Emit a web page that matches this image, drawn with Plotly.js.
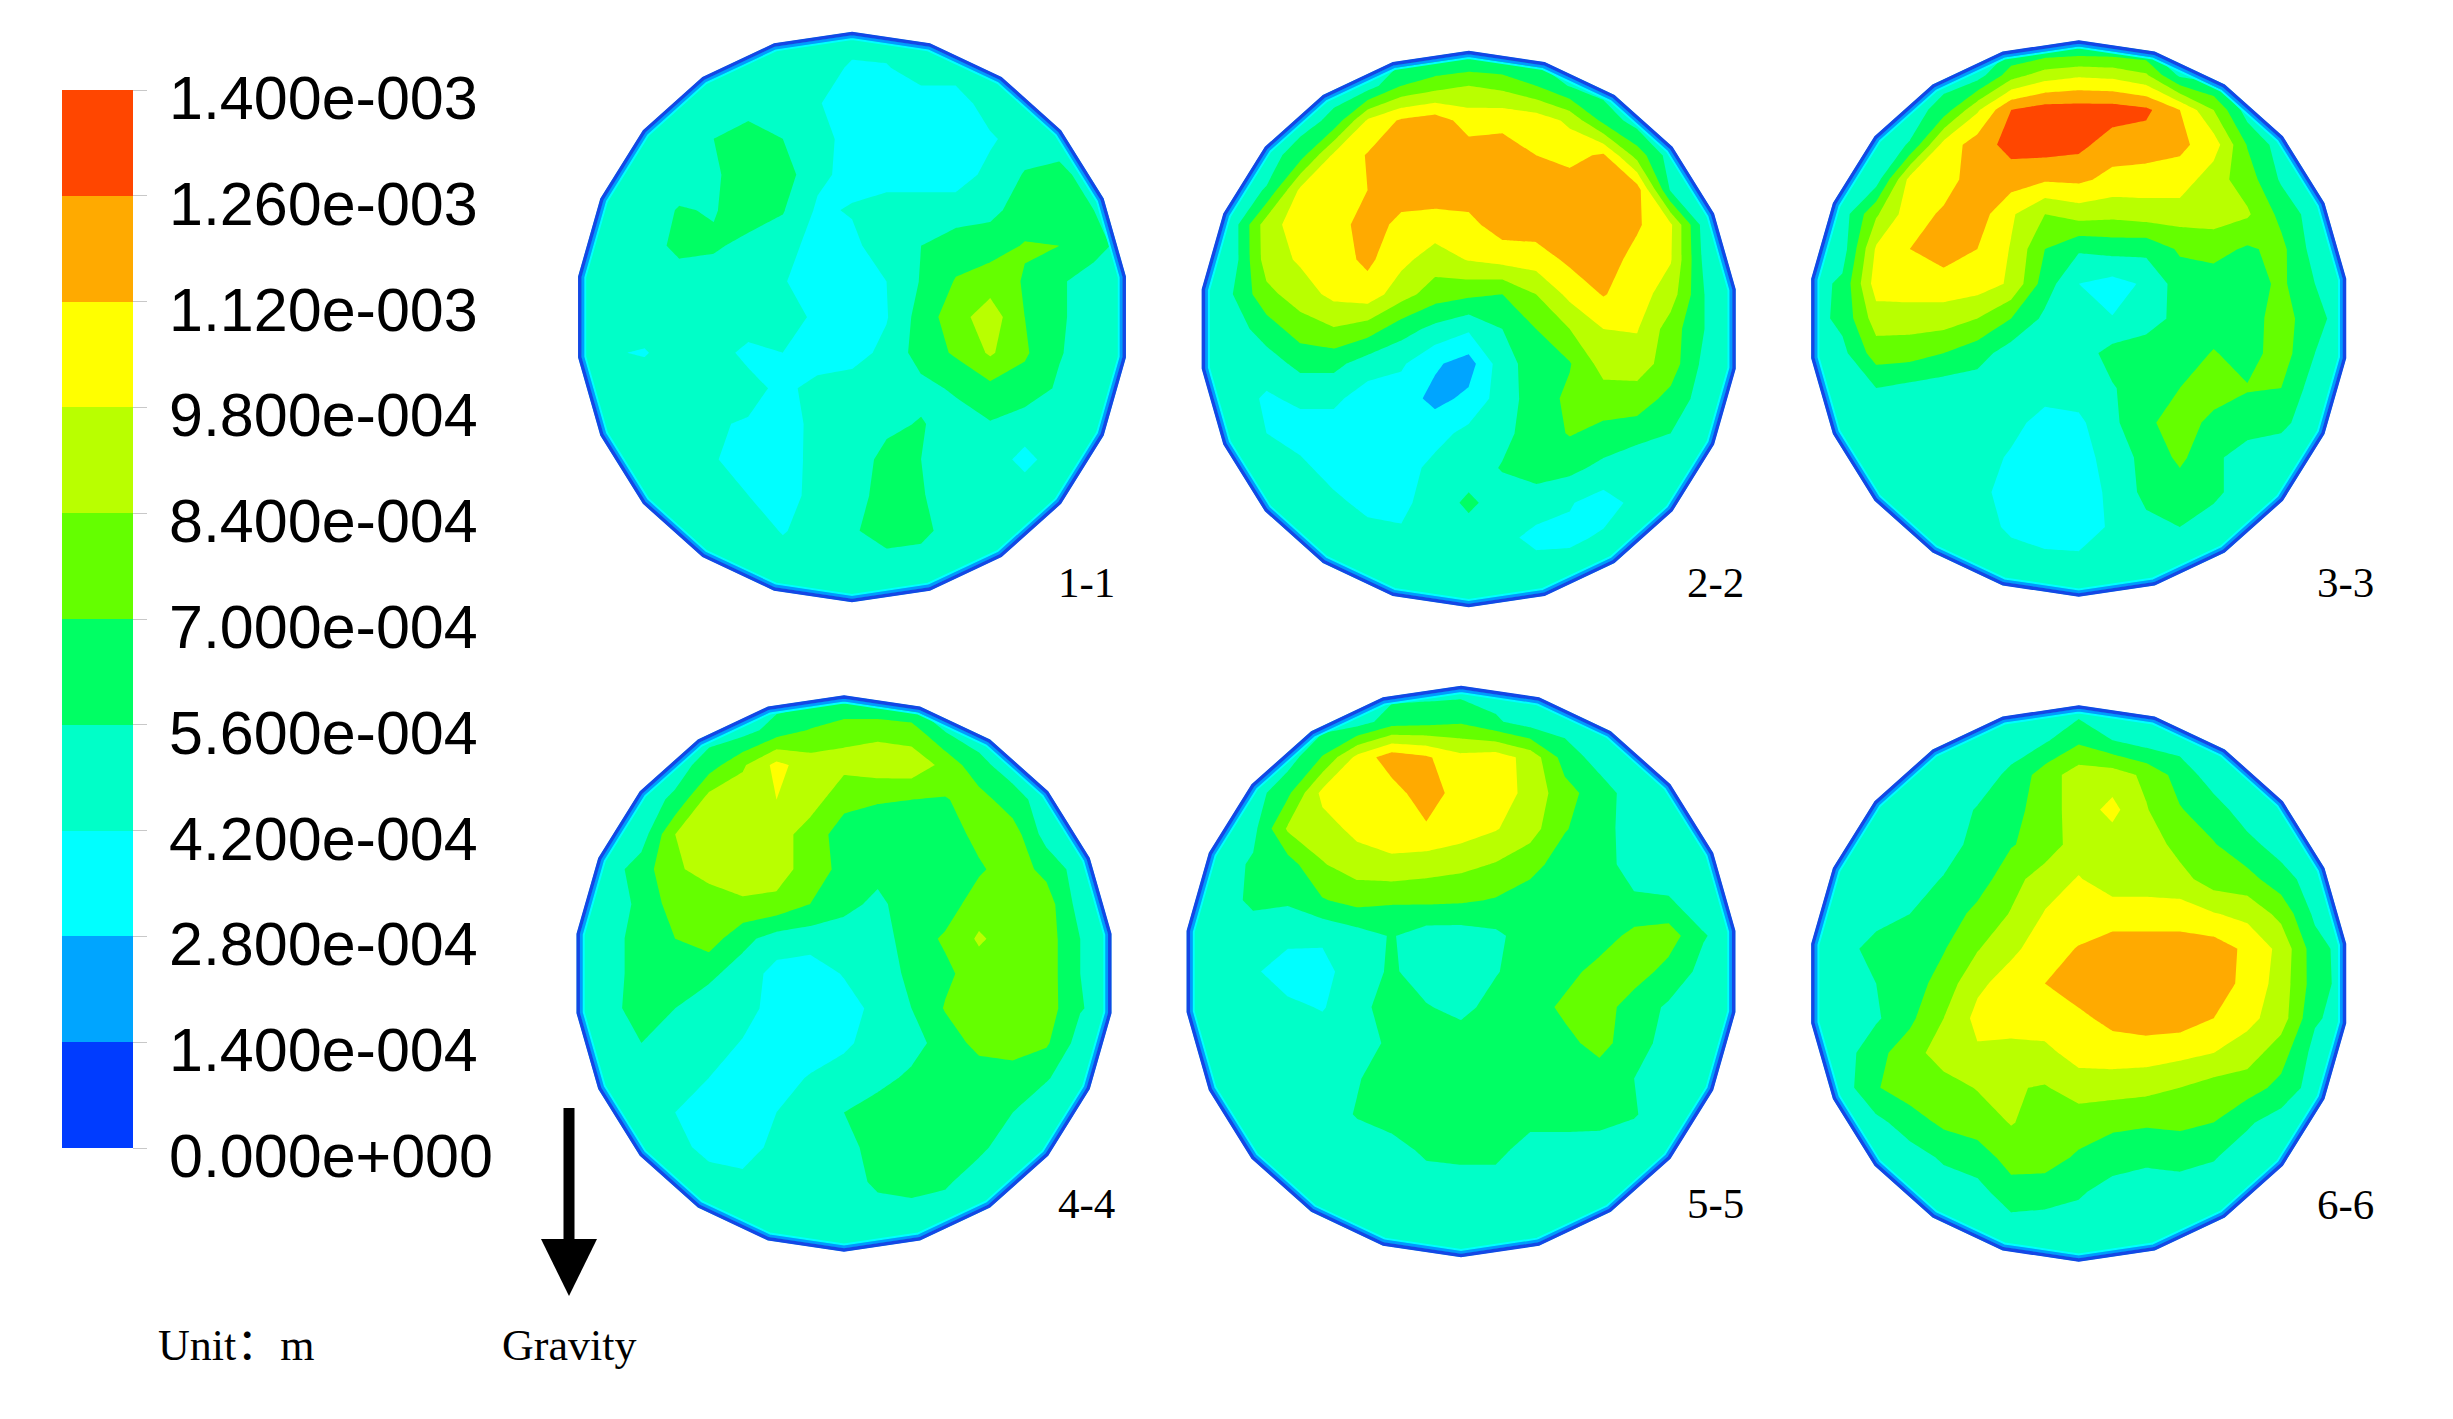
<!DOCTYPE html>
<html>
<head>
<meta charset="utf-8">
<script src="https://cdn.plot.ly/plotly-3.0.1.min.js"></script>
<style>body{margin:0;background:#fff}</style>
</head>
<body>
<div id="myDiv" style="width:2453px;height:1419px"></div>
<script>
// Values in units of 1e-4 m on a 17x17 grid over each disc
const disc1 = [
[4.9,4.9,4.9,4.9,4.9,4.9,4.9,4.9,4.9,4.9,4.9,4.9,4.9,4.9,4.9,4.9,4.9],
[4.9,4.9,4.9,4.9,4.9,4.9,4.9,4.9,4.0,4.1,4.9,4.9,4.9,4.9,4.9,4.9,4.9],
[4.9,4.9,4.9,4.9,4.9,4.9,4.9,4.3,3.5,3.5,3.5,3.5,4.9,4.9,4.9,4.9,4.9],
[4.9,4.9,4.9,4.9,5.6,6.3,5.6,4.9,3.5,3.5,3.5,3.5,4.0,4.9,4.9,4.9,4.9],
[4.9,4.9,4.9,4.9,5.4,6.3,6.3,4.5,3.8,3.5,3.5,3.5,4.6,5.7,6.0,4.9,4.9],
[4.9,4.9,4.9,5.7,5.5,6.3,5.7,4.0,4.3,4.9,4.9,4.9,5.2,6.3,7.0,5.6,4.9],
[4.9,4.9,4.9,6.0,5.8,5.2,4.9,3.5,3.9,4.9,5.6,6.3,6.4,7.1,7.0,6.2,4.9],
[4.9,4.9,4.9,4.9,4.9,4.9,4.3,3.5,3.5,4.2,5.7,7.1,7.7,6.9,5.8,4.9,4.9],
[4.9,4.9,4.9,4.9,4.9,4.9,4.9,3.9,3.5,4.1,6.2,7.8,9.2,7.0,5.8,4.9,4.9],
[4.9,4.3,4.1,4.9,4.7,3.9,4.2,3.5,3.6,4.6,6.2,7.2,8.6,7.2,5.7,4.9,4.9],
[4.9,4.9,4.9,4.9,4.9,4.6,3.9,4.6,4.9,4.9,5.2,5.8,6.6,6.4,5.4,4.9,4.9],
[4.9,4.9,4.9,4.9,4.3,4.1,3.6,4.6,4.9,5.3,5.7,5.0,5.5,4.9,4.9,4.9,4.9],
[4.9,4.9,4.9,4.9,4.3,3.6,3.5,4.7,4.9,6.0,5.6,4.9,4.9,3.8,4.9,4.9,4.9],
[4.9,4.9,4.9,4.9,4.9,4.2,3.6,4.7,5.0,6.2,5.7,4.9,4.9,4.9,4.9,4.9,4.9],
[4.9,4.9,4.9,4.9,4.9,4.9,4.1,4.8,5.4,6.3,6.0,4.9,4.9,4.9,4.9,4.9,4.9],
[4.9,4.9,4.9,4.9,4.9,4.9,4.9,4.9,4.9,4.9,4.9,4.9,4.9,4.9,4.9,4.9,4.9],
[4.9,4.9,4.9,4.9,4.9,4.9,4.9,4.9,4.9,4.9,4.9,4.9,4.9,4.9,4.9,4.9,4.9]
];
const disc2 = [
[4.9,4.9,4.9,4.9,4.9,4.9,4.9,4.9,4.9,4.9,4.9,4.9,4.9,4.9,4.9,4.9,4.9],
[4.9,4.9,4.9,4.9,4.9,4.9,7.0,7.8,8.4,8.0,7.0,5.5,4.9,4.9,4.9,4.9,4.9],
[4.9,4.9,4.9,4.9,6.0,10.0,11.4,11.9,10.6,10.8,10.6,9.5,6.6,4.9,4.9,4.9,4.9],
[4.9,4.9,4.9,6.4,10.1,11.3,11.9,11.9,11.9,11.9,11.2,10.8,11.4,7.8,4.9,4.9,4.9],
[4.9,4.9,5.7,10.1,10.5,11.2,11.9,11.9,11.9,11.9,11.9,11.9,11.9,11.9,5.4,4.9,4.9],
[4.9,4.9,9.2,10.5,10.5,11.9,10.8,10.6,10.8,11.9,11.9,11.9,11.9,11.4,10.0,4.9,4.9],
[4.9,4.9,9.1,10.0,10.6,11.5,10.2,9.1,9.9,10.3,10.5,11.5,11.9,10.7,9.9,5.2,4.9],
[4.9,5.6,8.0,9.1,10.2,10.6,9.0,7.7,7.3,7.0,8.4,10.2,11.3,10.4,9.1,5.6,4.9],
[4.9,4.9,6.3,7.7,8.3,7.7,6.2,5.2,4.4,5.6,7.0,8.4,9.8,9.9,7.7,5.6,4.9],
[4.9,4.9,4.9,6.0,6.0,4.9,4.4,3.0,2.2,5.0,6.3,6.9,9.0,9.1,7.7,5.2,4.9],
[4.9,4.9,4.0,4.5,4.5,3.5,3.5,2.4,3.1,4.9,6.3,7.3,7.7,7.7,6.6,4.9,4.9],
[4.9,4.9,4.2,3.5,3.5,3.5,3.5,3.7,4.6,5.2,6.3,7.1,6.6,6.3,5.6,4.9,4.9],
[4.9,4.9,4.9,4.6,3.5,3.5,3.6,4.6,4.9,5.7,6.2,6.0,5.2,4.2,4.9,4.9,4.9],
[4.9,4.9,4.9,4.9,4.6,3.7,3.9,4.8,5.9,4.9,4.9,4.3,3.6,4.6,4.9,4.9,4.9],
[4.9,4.9,4.9,4.9,4.9,4.9,4.4,4.9,4.9,4.6,3.8,3.9,4.4,4.9,4.9,4.9,4.9],
[4.9,4.9,4.9,4.9,4.9,4.9,4.9,4.9,4.9,4.9,4.9,4.9,4.9,4.9,4.9,4.9,4.9],
[4.9,4.9,4.9,4.9,4.9,4.9,4.9,4.9,4.9,4.9,4.9,4.9,4.9,4.9,4.9,4.9,4.9]
];
const disc3 = [
[4.9,4.9,4.9,4.9,4.9,4.9,4.9,4.9,4.9,4.9,4.9,4.9,4.9,4.9,4.9,4.9,4.9],
[4.9,4.9,4.9,4.9,4.9,4.9,7.8,9.1,9.6,9.4,8.6,5.3,4.9,4.9,4.9,4.9,4.9],
[4.9,4.9,4.9,4.9,6.2,9.6,12.6,13.3,13.3,13.3,12.9,11.2,8.4,4.9,4.9,4.9,4.9],
[4.9,4.9,4.9,5.7,10.3,11.9,13.1,13.3,13.0,11.9,11.9,11.5,10.5,6.9,4.9,4.9,4.9],
[4.9,4.9,4.9,10.3,10.6,11.9,11.9,11.4,11.5,10.8,10.6,10.6,9.0,7.7,5.4,4.9,4.9],
[4.9,4.9,8.2,10.6,11.4,11.9,10.0,8.4,9.0,8.8,9.1,9.1,9.1,8.6,6.6,4.9,4.9],
[4.9,4.9,10.0,11.2,11.9,11.2,9.7,7.0,5.8,6.1,6.0,7.2,7.5,6.8,7.4,5.0,4.9],
[4.9,5.9,10.5,10.6,10.6,10.5,9.6,6.3,4.2,3.7,4.4,6.3,6.3,6.3,7.3,5.6,4.9],
[4.9,6.0,9.1,9.1,9.1,8.4,7.0,5.3,4.8,4.25,5.0,6.0,6.3,6.3,7.7,6.0,4.9],
[4.9,5.2,7.7,7.6,7.0,6.2,4.9,4.9,4.9,6.1,6.3,6.3,7.1,6.4,7.7,5.6,4.9],
[4.9,4.9,5.6,5.2,4.9,4.9,4.9,4.9,4.9,5.5,6.3,7.0,7.7,7.1,7.0,4.9,4.9],
[4.9,4.9,4.9,4.9,4.9,4.9,4.7,3.6,3.9,5.3,6.7,7.7,6.6,6.3,5.9,4.9,4.9],
[4.9,4.9,4.9,4.9,4.9,4.9,4.0,3.5,3.5,4.9,6.0,7.3,5.9,4.9,4.9,4.9,4.9],
[4.9,4.9,4.9,4.9,4.9,4.7,3.5,3.5,3.5,4.5,6.0,6.3,5.9,4.9,4.9,4.9,4.9],
[4.9,4.9,4.9,4.9,4.9,4.9,3.9,3.5,3.5,4.4,5.2,5.6,5.0,4.9,4.9,4.9,4.9],
[4.9,4.9,4.9,4.9,4.9,4.9,4.9,4.6,4.5,4.9,4.9,4.9,4.9,4.9,4.9,4.9,4.9],
[4.9,4.9,4.9,4.9,4.9,4.9,4.9,4.9,4.9,4.9,4.9,4.9,4.9,4.9,4.9,4.9,4.9]
];
const disc4 = [
[4.9,4.9,4.9,4.9,4.9,4.9,4.9,4.9,4.9,4.9,4.9,4.9,4.9,4.9,4.9,4.9,4.9],
[4.9,4.9,4.9,4.9,4.9,5.0,6.2,7.1,8.0,8.0,7.6,5.5,4.9,4.9,4.9,4.9,4.9],
[4.9,4.9,4.9,4.9,6.3,8.2,10.2,9.1,8.8,9.2,9.3,8.0,6.0,4.9,4.9,4.9,4.9],
[4.9,4.9,4.9,5.9,9.0,9.2,9.8,9.1,7.4,7.1,7.0,6.9,7.6,6.2,4.9,4.9,4.9],
[4.9,4.9,4.9,8.4,9.1,9.1,9.1,7.7,6.4,6.3,6.3,6.3,7.4,7.7,5.0,4.9,4.9],
[4.9,4.9,6.3,8.2,8.9,9.1,9.1,7.7,6.6,6.0,6.3,6.3,6.8,7.7,6.6,4.9,4.9],
[4.9,4.9,5.9,7.7,7.7,8.2,8.0,7.0,6.0,5.3,6.3,6.3,7.7,7.7,7.7,5.0,4.9],
[4.9,4.9,6.3,7.0,7.7,6.0,5.0,4.8,4.9,4.9,6.3,7.2,8.6,7.7,7.7,5.6,4.9],
[4.9,4.9,6.3,6.3,5.9,5.0,3.7,3.5,4.3,4.9,5.9,6.7,7.7,7.7,7.7,5.6,4.9],
[4.9,5.3,6.0,5.6,4.9,4.8,3.6,3.5,3.6,4.6,5.6,7.1,7.7,7.7,7.7,5.7,4.9],
[4.9,4.9,5.6,4.9,4.9,4.1,3.5,3.5,3.9,4.9,5.0,6.3,7.4,7.7,7.2,5.0,4.9],
[4.9,4.9,4.9,4.9,4.2,3.5,3.7,4.3,4.9,5.1,5.9,6.3,6.3,6.3,5.7,4.9,4.9],
[4.9,4.9,4.9,4.2,3.5,3.5,4.2,4.9,5.6,6.3,6.3,6.3,6.3,5.6,4.9,4.9,4.9],
[4.9,4.9,4.9,4.7,3.7,3.7,4.5,4.9,5.0,6.3,6.3,6.3,5.9,4.9,4.9,4.9,4.9],
[4.9,4.9,4.9,4.9,4.9,4.5,4.7,4.9,4.9,5.9,6.2,5.8,4.9,4.9,4.9,4.9,4.9],
[4.9,4.9,4.9,4.9,4.9,4.9,4.9,4.9,4.9,4.9,4.9,4.9,4.9,4.9,4.9,4.9,4.9],
[4.9,4.9,4.9,4.9,4.9,4.9,4.9,4.9,4.9,4.9,4.9,4.9,4.9,4.9,4.9,4.9,4.9]
];
const disc5 = [
[4.9,4.9,4.9,4.9,4.9,4.9,4.9,4.9,4.9,4.9,4.9,4.9,4.9,4.9,4.9,4.9,4.9],
[4.9,4.9,4.9,4.9,4.9,4.9,6.3,6.5,6.8,5.8,4.9,4.9,4.9,4.9,4.9,4.9,4.9],
[4.9,4.9,4.9,4.9,7.1,10.2,12.0,11.4,10.2,10.5,9.3,6.4,5.0,4.9,4.9,4.9,4.9],
[4.9,4.9,4.9,6.7,10.2,11.0,10.6,12.0,10.5,10.5,9.4,7.5,6.3,4.9,4.9,4.9,4.9],
[4.9,4.9,5.2,8.6,9.2,10.2,10.5,11.0,10.5,9.9,9.0,7.1,6.2,4.9,4.9,4.9,4.9],
[4.9,4.9,5.8,6.4,8.3,9.1,9.5,9.1,8.8,8.3,7.5,6.3,6.2,5.0,4.9,4.9,4.9],
[4.9,4.9,5.9,5.8,6.9,7.5,7.2,7.3,7.2,6.9,6.3,6.3,6.3,5.8,5.7,4.9,4.9],
[4.9,4.9,4.9,4.6,4.4,5.0,5.7,4.9,4.9,5.3,6.3,6.3,6.3,7.4,7.7,5.7,4.9],
[4.9,4.9,4.4,3.5,3.8,4.9,5.8,4.9,4.9,5.5,6.3,6.5,7.5,7.7,6.5,5.2,4.9],
[4.9,4.9,4.9,4.5,4.1,5.1,6.3,5.7,5.2,6.1,6.3,7.3,7.7,6.3,5.4,4.9,4.9],
[4.9,4.9,4.9,4.9,4.9,4.9,5.9,6.3,6.3,6.3,6.3,6.6,7.5,6.2,5.1,4.9,4.9],
[4.9,4.9,4.9,4.9,4.9,5.5,6.3,6.3,6.3,6.3,6.3,6.7,6.3,5.6,4.9,4.9,4.9],
[4.9,4.9,4.9,4.9,4.9,5.7,6.3,6.3,6.3,6.3,6.3,6.3,6.2,5.7,4.9,4.9,4.9],
[4.9,4.9,4.9,4.9,4.9,4.9,5.0,5.9,6.1,6.1,4.9,4.9,4.9,4.9,4.9,4.9,4.9],
[4.9,4.9,4.9,4.9,4.9,4.9,4.9,4.9,4.9,4.9,4.9,4.9,4.9,4.9,4.9,4.9,4.9],
[4.9,4.9,4.9,4.9,4.9,4.9,4.9,4.9,4.9,4.9,4.9,4.9,4.9,4.9,4.9,4.9,4.9],
[4.9,4.9,4.9,4.9,4.9,4.9,4.9,4.9,4.9,4.9,4.9,4.9,4.9,4.9,4.9,4.9,4.9]
];
const disc6 = [
[4.9,4.9,4.9,4.9,4.9,4.9,4.9,4.9,4.9,4.9,4.9,4.9,4.9,4.9,4.9,4.9,4.9],
[4.9,4.9,4.9,4.9,4.9,4.9,4.9,5.4,6.7,5.6,4.9,4.9,4.9,4.9,4.9,4.9,4.9],
[4.9,4.9,4.9,4.9,4.9,4.9,5.9,7.7,9.1,9.1,8.1,6.4,4.9,4.9,4.9,4.9,4.9],
[4.9,4.9,4.9,4.9,4.9,5.7,6.5,7.7,9.1,10.2,8.5,7.1,6.2,4.9,4.9,4.9,4.9],
[4.9,4.9,4.9,4.9,4.9,6.1,6.9,7.6,9.1,9.1,9.2,7.9,7.1,6.0,5.0,4.9,4.9],
[4.9,4.9,4.9,4.9,5.7,6.3,7.9,9.1,9.9,9.1,9.1,8.9,7.7,7.5,6.2,4.9,4.9],
[4.9,4.9,4.9,5.6,6.2,7.4,8.5,9.9,10.3,10.5,10.5,10.5,9.9,9.4,8.0,5.3,4.9],
[4.9,4.9,6.3,6.3,6.9,8.3,9.5,10.5,11.3,11.9,11.9,11.9,11.9,10.9,9.4,6.2,4.9],
[4.9,4.9,5.6,6.3,7.6,9.5,10.4,11.2,11.9,11.9,11.9,11.9,11.9,10.8,9.2,6.3,4.9],
[4.9,4.9,5.4,6.7,8.4,10.2,10.5,10.6,10.9,11.6,11.9,11.9,11.2,10.2,9.1,5.8,4.9],
[4.9,4.9,6.6,7.7,9.2,9.6,9.3,9.4,10.4,10.5,10.5,10.2,9.8,9.1,7.6,5.1,4.9],
[4.9,4.9,6.9,7.7,7.7,8.5,8.5,8.3,9.0,9.0,8.8,8.4,7.8,7.6,6.6,4.9,4.9],
[4.9,4.9,5.2,6.3,7.3,7.5,8.5,7.7,7.7,7.3,7.2,7.3,7.0,5.8,4.9,4.9,4.9],
[4.9,4.9,4.9,5.0,5.8,6.5,7.4,7.6,6.8,6.3,5.9,6.1,5.7,4.9,4.9,4.9,4.9],
[4.9,4.9,4.9,4.9,4.9,5.0,6.6,6.3,5.8,5.0,4.9,4.9,4.9,4.9,4.9,4.9,4.9],
[4.9,4.9,4.9,4.9,4.9,4.9,4.9,4.9,4.9,4.9,4.9,4.9,4.9,4.9,4.9,4.9,4.9],
[4.9,4.9,4.9,4.9,4.9,4.9,4.9,4.9,4.9,4.9,4.9,4.9,4.9,4.9,4.9,4.9,4.9]
];
const discNames = ["1-1", "2-2", "3-3", "4-4", "5-5", "6-6"];
const levels = [0, 1.4, 2.8, 4.2, 5.6, 7, 8.4, 9.8, 11.2, 12.6, 14];
const levelLabels = ["0.000e+000", "1.400e-004", "2.800e-004", "4.200e-004", "5.600e-004", "7.000e-004", "8.400e-004", "9.800e-004", "1.120e-003", "1.260e-003", "1.400e-003"];
const bandColors = ["#003cff", "#00a5ff", "#00ffff", "#00ffc8", "#00ff64", "#64ff00", "#b9ff00", "#ffff00", "#ffaa00", "#ff4600"];

// Everything is placed in picture pixels: one axis pair covering the whole page
const W = 2453, H = 1419;
const allDiscs = [disc1, disc2, disc3, disc4, disc5, disc6];
const centers = [[852, 317], [1468.7, 329], [2078.7, 318.5], [844, 973.5], [1461, 971.5], [2078.7, 983.5]];
const radii = [[276.5, 285], [269.5, 278], [270, 278], [270, 278], [277, 285.5], [270, 278]];
const nameSpots = [[1086, 582], [1715, 582], [2345, 582], [1086, 1203], [1715, 1203], [2345, 1204]];
const SIDES = 22;

// Stepped colour scale, one flat step for each band
const colorscale = [];
bandColors.forEach((c, i) => {
  colorscale.push([i / 10, c]);
  colorscale.push([(i + 1) / 10, c]);
});

// Path of the 22-sided wall of a disc, inset by some pixels
function wallPath(i, inset) {
  let p = "";
  for (let k = 0; k < SIDES; k++) {
    const a = (2 * Math.PI * k) / SIDES;
    const px = centers[i][0] + (radii[i][0] - inset) * Math.sin(a);
    const py = centers[i][1] - (radii[i][1] - inset) * Math.cos(a);
    p += (k ? "L" : "M") + px.toFixed(1) + "," + py.toFixed(1);
  }
  return p + "Z";
}

const data = allDiscs.map((z, i) => {
  const n = z.length;
  const grid = z.map((row, k) => (2 * k) / (n - 1) - 1);
  return {
    type: "contour",
    z: z,
    x: grid.map((u) => centers[i][0] + radii[i][0] * u),
    y: grid.map((v) => centers[i][1] + radii[i][1] * v),
    autocontour: false,
    contours: { start: levels[0], end: levels[10], size: 1.4, coloring: "fill", showlines: false },
    line: { width: 0, smoothing: 0 },
    colorscale: colorscale,
    zmin: levels[0],
    zmax: levels[10],
    hoverinfo: "skip",
    showscale: i === 0,
    colorbar: {
      x: 62 / W,
      xanchor: "left",
      xpad: 0,
      y: (H - 1148) / H,
      yanchor: "bottom",
      ypad: 0,
      thickness: 71,
      lenmode: "pixels",
      len: 1058,
      outlinewidth: 0,
      borderwidth: 0,
      tickmode: "array",
      tickvals: levels,
      ticks: "outside",
      ticklen: 14,
      tickwidth: 1,
      tickcolor: "#c8c8c8",
      showticklabels: false,
    },
  };
});

// White cover round each disc, then the blue rings of the wall
const shapes = [];
allDiscs.forEach((z, i) => {
  const x0 = centers[i][0] - radii[i][0] - 4, x1 = centers[i][0] + radii[i][0] + 4;
  const y0 = centers[i][1] - radii[i][1] - 4, y1 = centers[i][1] + radii[i][1] + 4;
  shapes.push({
    type: "path",
    path: `M${x0},${y0}L${x1},${y0}L${x1},${y1}L${x0},${y1}Z` + wallPath(i, 0),
    fillcolor: "#fff",
    fillrule: "evenodd",
    line: { width: 0 },
    layer: "above",
  });
  shapes.push({ type: "path", path: wallPath(i, 7), line: { color: "#00ffff", width: 2 }, layer: "above" });
  shapes.push({ type: "path", path: wallPath(i, 4.5), line: { color: "#009bff", width: 3 }, layer: "above" });
  shapes.push({ type: "path", path: wallPath(i, 1.5), line: { color: "#1447e6", width: 3.5 }, layer: "above" });
});

// Gravity arrow
shapes.push({ type: "line", x0: 569, x1: 569, y0: 1108, y1: 1242, line: { color: "#000", width: 11 }, layer: "above" });
shapes.push({ type: "path", path: "M541,1239L597,1239L569,1296Z", fillcolor: "#000", line: { width: 0 }, layer: "above" });

const annotations = [];
levelLabels.forEach((t, i) => {
  annotations.push({
    x: 167,
    y: 1148 - (levels[i] / 14) * 1058 + 8,
    text: t,
    showarrow: false,
    xanchor: "left",
    yanchor: "middle",
    font: { family: "Liberation Sans", size: 61, color: "#000" },
  });
});
discNames.forEach((t, i) => {
  annotations.push({
    x: nameSpots[i][0],
    y: nameSpots[i][1],
    text: t,
    showarrow: false,
    font: { family: "Liberation Serif", size: 43, color: "#000" },
  });
});
annotations.push({ x: 236, y: 1345, text: "Unit：m", showarrow: false, font: { family: "Liberation Serif, Noto Sans CJK SC", size: 44, color: "#000" } });
annotations.push({ x: 569, y: 1345, text: "Gravity", showarrow: false, font: { family: "Liberation Serif", size: 44, color: "#000" } });

const layout = {
  width: W,
  height: H,
  margin: { l: 0, r: 0, t: 0, b: 0, autoexpand: false },
  paper_bgcolor: "#fff",
  plot_bgcolor: "#fff",
  showlegend: false,
  xaxis: { range: [0, W], visible: false, fixedrange: true },
  yaxis: { range: [H, 0], visible: false, fixedrange: true },
  shapes: shapes,
  annotations: annotations,
};

Plotly.newPlot("myDiv", data, layout, { displayModeBar: false, staticPlot: true });
</script>
</body>
</html>
